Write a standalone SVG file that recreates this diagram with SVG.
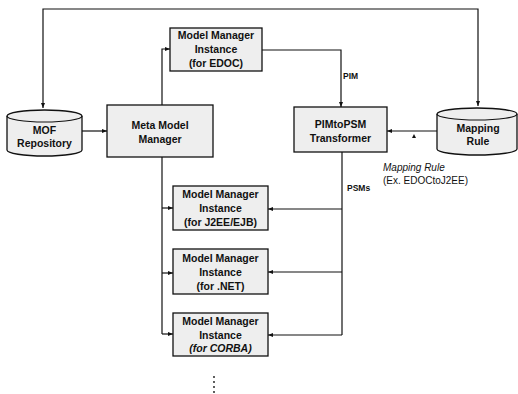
<svg xmlns="http://www.w3.org/2000/svg" width="518" height="394" viewBox="0 0 518 394">
<defs>
<marker id="ah" viewBox="0 0 10 10" refX="10" refY="5" markerWidth="5" markerHeight="5" orient="auto-start-reverse" markerUnits="userSpaceOnUse">
<path d="M0,1 L10,5 L0,9 z" fill="#111"/>
</marker>
</defs>
<style>
.box{fill:#eeeeee;stroke:#111;stroke-width:1.3}
.t{font-family:"Liberation Sans",Arial,sans-serif;font-size:10.5px;font-weight:bold;fill:#111;text-anchor:middle}
.it{font-style:italic}
.lbl{font-family:"Liberation Sans",Arial,sans-serif;font-size:8.5px;fill:#111}
.note{font-family:"Liberation Sans",Arial,sans-serif;font-size:10px;fill:#111}
.c{fill:none;stroke:#111;stroke-width:1.2}
</style>
<rect width="518" height="394" fill="#fff"/>

<g id="connectors">
<polyline class="c" points="43,108 43,9 478,9 478,106" marker-start="url(#ah)" marker-end="url(#ah)"/>
<line class="c" x1="82" y1="131" x2="107" y2="131" marker-end="url(#ah)"/>
<polyline class="c" points="162,105 162,49 170,49" marker-end="url(#ah)"/>
<polyline class="c" points="262,50 341,50 341,107" marker-end="url(#ah)"/>
<line class="c" x1="437" y1="131" x2="387" y2="131" marker-end="url(#ah)"/>
<line class="c" x1="162" y1="157" x2="162" y2="334"/>
<line class="c" x1="162" y1="208" x2="173" y2="208" marker-end="url(#ah)"/>
<line class="c" x1="162" y1="273" x2="173" y2="273" marker-end="url(#ah)"/>
<polyline class="c" points="162,334 173,334" marker-end="url(#ah)"/>
<line class="c" x1="342" y1="152" x2="342" y2="335"/>
<line class="c" x1="342" y1="209" x2="268" y2="209" marker-end="url(#ah)"/>
<line class="c" x1="342" y1="272" x2="268" y2="272" marker-end="url(#ah)"/>
<line class="c" x1="342" y1="335" x2="268" y2="335" marker-end="url(#ah)"/>
<polygon points="412,138 414,134 416,138" fill="#111"/>
<text class="lbl" x="343" y="79" font-weight="bold">PIM</text>
<text class="lbl" x="347" y="191" font-weight="bold">PSMs</text>
<text class="note it" x="383" y="171">Mapping Rule</text>
<text class="note" x="383" y="184">(Ex. EDOCtoJ2EE)</text>
</g>

<g id="mof">
<path class="box" d="M7,116 A37.5,6 0 0 1 82,116 L82,150 A37.5,6 0 0 1 7,150 Z"/>
<path class="c" d="M7,116 A37.5,6 0 0 0 82,116"/>
<text class="t" x="44.5" y="134">MOF</text>
<text class="t" x="44.5" y="147">Repository</text>
</g>

<g id="mapping-rule">
<path class="box" d="M437,114 A40,6 0 0 1 517,114 L517,149 A40,6 0 0 1 437,149 Z"/>
<path class="c" d="M437,114 A40,6 0 0 0 517,114"/>
<text class="t" x="478" y="132">Mapping</text>
<text class="t" x="478" y="145">Rule</text>
</g>

<g id="meta-model-manager">
<rect class="box" x="107" y="105" width="106" height="52"/>
<text class="t" x="160" y="129">Meta Model</text>
<text class="t" x="160" y="143">Manager</text>
</g>

<g id="mmi-edoc">
<rect class="box" x="170" y="28" width="92" height="43"/>
<text class="t" x="216" y="39">Model Manager</text>
<text class="t" x="216" y="53">Instance</text>
<text class="t" x="216" y="67">(for EDOC)</text>
</g>

<g id="pim-to-psm">
<rect class="box" x="294" y="107" width="93" height="45"/>
<text class="t" x="340.5" y="128">PIMtoPSM</text>
<text class="t" x="340.5" y="142">Transformer</text>
</g>

<g id="mmi-j2ee">
<rect class="box" x="173" y="186" width="95" height="44"/>
<text class="t" x="220.5" y="198">Model Manager</text>
<text class="t" x="220.5" y="212">Instance</text>
<text class="t" x="220.5" y="226">(for J2EE/EJB)</text>
</g>

<g id="mmi-net">
<rect class="box" x="173" y="249" width="95" height="45"/>
<text class="t" x="220.5" y="262">Model Manager</text>
<text class="t" x="220.5" y="276">Instance</text>
<text class="t" x="220.5" y="290">(for .NET)</text>
</g>

<g id="mmi-corba">
<rect class="box" x="173" y="313" width="95" height="43"/>
<text class="t" x="220.5" y="325">Model Manager</text>
<text class="t" x="220.5" y="339">Instance</text>
<text class="t it" x="220.5" y="352">(for CORBA)</text>
</g>

<g id="ellipsis" fill="#111">
<circle cx="214" cy="377" r="0.9"/>
<circle cx="214" cy="382" r="0.9"/>
<circle cx="214" cy="387" r="0.9"/>
<circle cx="214" cy="392" r="0.9"/>
</g>
</svg>
